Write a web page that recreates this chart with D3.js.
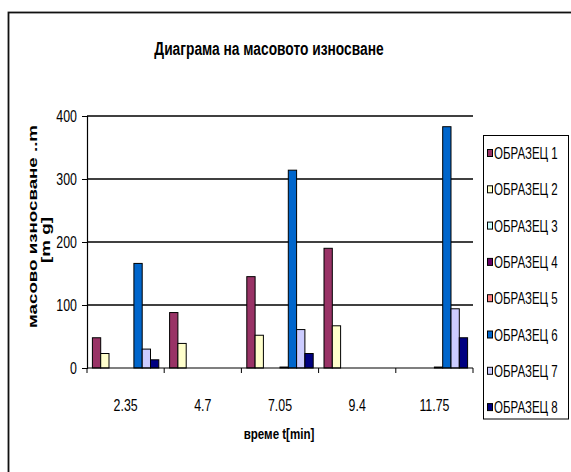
<!DOCTYPE html>
<html>
<head>
<meta charset="utf-8">
<script src="https://cdn.jsdelivr.net/npm/d3@7"></script>
<style>
  html, body { margin: 0; padding: 0; background: #fff; }
  svg { display: block; }
  text { font-family: "Liberation Sans", Arial, sans-serif; fill: #000; }
</style>
</head>
<body>
<svg id="chart" width="571" height="472"></svg>
<script>
// Categories (time, min) and series (mass wear, mg)
const categories = ["2.35", "4.7", "7.05", "9.4", "11.75"];
const seriesNames = ["ОБРАЗЕЦ 1", "ОБРАЗЕЦ 2", "ОБРАЗЕЦ 3", "ОБРАЗЕЦ 4",
                     "ОБРАЗЕЦ 5", "ОБРАЗЕЦ 6", "ОБРАЗЕЦ 7", "ОБРАЗЕЦ 8"];
const s1 = [48, 88, 145, 190, 0];
const s2 = [23, 39, 52, 67, 0];
const s3 = [0, 0, 0, 0, 0];
const s4 = [0, 0, 0, 0, 0];
const s5 = [0, 0, 1.5, 0, 1.5];
const s6 = [166, 0, 314, 0, 383];
const s7 = [30, 0, 61, 0, 94];
const s8 = [13, 0, 23, 0, 48];
const seriesValues = [s1, s2, s3, s4, s5, s6, s7, s8];
const seriesColors = ["#993366", "#FFFFCC", "#CCFFFF", "#660066",
                      "#FF8080", "#0066CC", "#CCCCFF", "#000080"];
const yTicks = [0, 100, 200, 300, 400];

const svg = d3.select("#chart");

// squeeze text horizontally (narrow face), keeping its anchor point
function narrow(sel, factor) {
  sel.each(function () {
    const t = d3.select(this);
    const x = +t.attr("x") || 0;
    const yy = +t.attr("y") || 0;
    t.attr("x", 0).attr("y", 0)
     .attr("transform", `translate(${x},${yy}) scale(${factor},1)`);
  });
}

// outer chart frame
svg.append("rect")
  .attr("x", 8.5).attr("y", 12.5)
  .attr("width", 600).attr("height", 500)
  .attr("fill", "none").attr("stroke", "#111").attr("stroke-width", 1.8);

const plot = { left: 87, right: 473, top: 116, bottom: 368 };

const x0 = d3.scaleBand().domain(categories)
  .range([plot.left, plot.right]).paddingInner(0).paddingOuter(0);
const inner = 0.07;
const x1 = d3.scaleBand().domain(d3.range(seriesNames.length))
  .range([x0.bandwidth() * inner, x0.bandwidth() * (1 - inner)]).padding(0);
const y = d3.scaleLinear().domain([0, 400]).range([plot.bottom, plot.top]);

// gridlines
svg.append("g")
  .selectAll("line").data(yTicks.filter(d => d > 0)).join("line")
  .attr("x1", plot.left).attr("x2", plot.right)
  .attr("y1", d => y(d)).attr("y2", d => y(d))
  .attr("stroke", "#000").attr("stroke-width", 1.6);

// bars
const groups = svg.append("g").selectAll("g").data(categories).join("g")
  .attr("transform", d => `translate(${x0(d)},0)`);
groups.selectAll("rect")
  .data((c, ci) => seriesValues.map((vals, si) => ({ si, v: vals[ci] })).filter(d => d.v > 0))
  .join("rect")
  .attr("x", d => x1(d.si))
  .attr("width", x1.bandwidth())
  .attr("y", d => y(d.v))
  .attr("height", d => y(0) - y(d.v))
  .attr("fill", d => seriesColors[d.si])
  .attr("stroke", "#000").attr("stroke-width", 1);

// y axis
const yAxis = svg.append("g").attr("transform", `translate(${plot.left},0)`)
  .call(d3.axisLeft(y).tickValues(yTicks).tickSize(5).tickPadding(5).tickFormat(d3.format("d")));
yAxis.select(".domain").attr("stroke", "#000").attr("stroke-width", 1.2);
yAxis.selectAll("text").attr("font-size", 16.5).attr("dy", "0.36em").call(narrow, 0.75);

// x axis with ticks on category boundaries
const xAxisG = svg.append("g").attr("transform", `translate(0,${plot.bottom})`);
xAxisG.append("line").attr("x1", plot.left).attr("x2", plot.right)
  .attr("stroke", "#000").attr("stroke-width", 1.2);
const boundaries = categories.map(c => x0(c)).concat([plot.right]);
xAxisG.selectAll("line.tick").data(boundaries).join("line")
  .attr("class", "tick")
  .attr("x1", d => d).attr("x2", d => d).attr("y1", 0).attr("y2", 5)
  .attr("stroke", "#000").attr("stroke-width", 1);
xAxisG.selectAll("text").data(categories).join("text")
  .attr("x", d => x0(d) + x0.bandwidth() / 2)
  .attr("y", 43).attr("text-anchor", "middle").attr("font-size", 16.5)
  .text(d => d)
  .call(narrow, 0.75);

// title
svg.append("text")
  .attr("x", 269).attr("y", 55).attr("text-anchor", "middle")
  .attr("font-size", 18.5).attr("font-weight", "bold")
  .text("Диаграма на масовото износване")
  .call(narrow, 0.745);

// x axis title
svg.append("text")
  .attr("x", 279).attr("y", 439).attr("text-anchor", "middle")
  .attr("font-size", 15).attr("font-weight", "bold")
  .text("време t[min]")
  .call(narrow, 0.77);

// y axis title (two lines)
svg.append("text")
  .attr("transform", "translate(37,226.5) rotate(-90)")
  .attr("text-anchor", "middle")
  .attr("font-size", 13).attr("font-weight", "bold")
  .attr("textLength", 203).attr("lengthAdjust", "spacingAndGlyphs")
  .text("масово износване ..m");
svg.append("text")
  .attr("transform", "translate(50,240) rotate(-90)")
  .attr("text-anchor", "middle")
  .attr("font-size", 13.5).attr("font-weight", "bold")
  .attr("textLength", 46).attr("lengthAdjust", "spacingAndGlyphs")
  .text("[m g]");

// legend
const legend = svg.append("g");
legend.append("rect")
  .attr("x", 483.5).attr("y", 135.5).attr("width", 85).attr("height", 283.5)
  .attr("fill", "#fff").attr("stroke", "#000").attr("stroke-width", 1);
const items = legend.selectAll("g.item").data(seriesNames).join("g")
  .attr("class", "item")
  .attr("transform", (d, i) => `translate(487,${153 + i * 36.3})`);
items.append("rect")
  .attr("x", 0.5).attr("y", -3.5).attr("width", 5).attr("height", 7)
  .attr("fill", (d, i) => seriesColors[i]).attr("stroke", "#000").attr("stroke-width", 1);
items.append("text")
  .attr("x", 7).attr("y", 6).attr("font-size", 16)
  .text(d => d)
  .call(narrow, 0.72);
</script>
</body>
</html>
